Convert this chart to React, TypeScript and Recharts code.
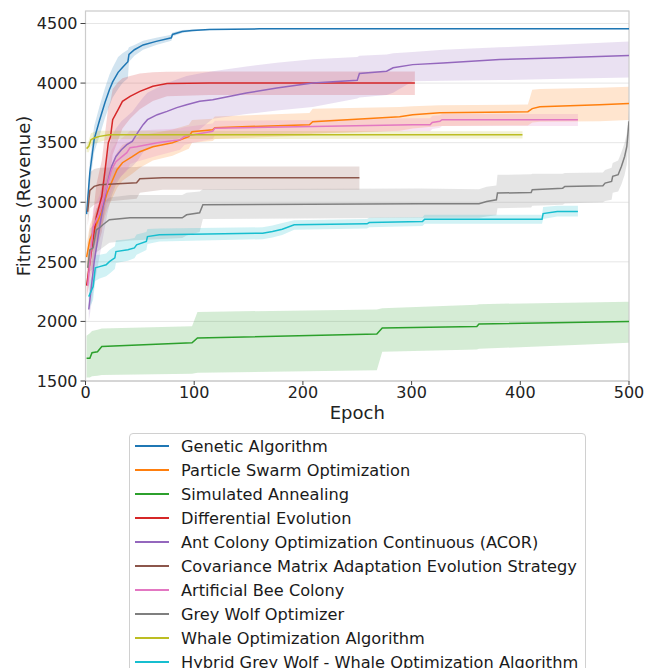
import {
  Area,
  CartesianGrid,
  ComposedChart,
  Line,
  ReferenceArea,
  XAxis,
  YAxis,
} from 'recharts'

// each row: [epoch, mean, lower, upper]
type Row = [number, number, number, number]

const names = [
  'Genetic Algorithm',
  'Particle Swarm Optimization',
  'Simulated Annealing',
  'Differential Evolution',
  'Ant Colony Optimization Continuous (ACOR)',
  'Covariance Matrix Adaptation Evolution Strategy',
  'Artificial Bee Colony',
  'Grey Wolf Optimizer',
  'Whale Optimization Algorithm',
  'Hybrid Grey Wolf - Whale Optimization Algorithm',
]

const colors = [
  '#1f77b4', '#ff7f0e', '#2ca02c', '#d62728', '#9467bd',
  '#8c564b', '#e377c2', '#7f7f7f', '#bcbd22', '#17becf',
]

const xTicks = [0, 100, 200, 300, 400, 500]
const yTicks = [1500, 2000, 2500, 3000, 3500, 4000, 4500]

const ga: Row[] = [
  [1, 2900, 2880, 2920], [4, 3250, 3150, 3350], [8, 3530, 3420, 3640],
  [13, 3690, 3560, 3810], [18, 3840, 3710, 3960], [22, 3945, 3810, 4070],
  [25, 4010, 3880, 4130], [30, 4090, 3950, 4220], [34, 4130, 4000, 4250],
  [39, 4180, 4040, 4280], [40, 4240, 4180, 4300], [45, 4280, 4230, 4320],
  [53, 4320, 4280, 4355], [65, 4350, 4320, 4380], [79, 4380, 4355, 4405],
  [80, 4408, 4390, 4425], [89, 4433, 4420, 4445], [98, 4441, 4432, 4450],
  [114, 4450, 4445, 4455], [160, 4455, 4452, 4458], [500, 4455, 4452, 4458],
]

const pso: Row[] = [
  [1, 2540, 2440, 2640], [4, 2685, 2560, 2810], [8, 2769, 2640, 2900],
  [13, 2878, 2740, 3010], [20, 3080, 2940, 3220], [25, 3189, 3040, 3340],
  [29, 3273, 3120, 3420], [34, 3332, 3180, 3480], [43, 3382, 3240, 3520],
  [50, 3424, 3290, 3560], [62, 3466, 3350, 3580], [80, 3500, 3390, 3610],
  [95, 3550, 3450, 3650], [98, 3592, 3500, 3690], [117, 3609, 3515, 3700],
  [119, 3626, 3530, 3720], [206, 3651, 3560, 3750], [209, 3676, 3575, 3785],
  [289, 3718, 3600, 3800], [301, 3735, 3620, 3805], [326, 3752, 3640, 3815],
  [407, 3760, 3645, 3820], [411, 3786, 3670, 3945], [418, 3802, 3676, 3950],
  [473, 3819, 3680, 3960], [500, 3828, 3690, 3970],
]

const sa: Row[] = [
  [1, 1690, 1530, 1880], [4, 1690, 1530, 1900], [6, 1738, 1540, 1920],
  [11, 1746, 1545, 1930], [15, 1790, 1550, 1940], [98, 1820, 1560, 1960],
  [103, 1861, 1570, 2080], [268, 1895, 1590, 2100], [273, 1945, 1745, 2110],
  [360, 1958, 1765, 2140], [362, 1979, 1770, 2145], [500, 2000, 1820, 2166],
]

const de: Row[] = [
  [1, 2300, 2200, 2400], [10, 2880, 2600, 3150], [15, 3050, 2750, 3350],
  [18, 3270, 2950, 3580], [21, 3500, 3200, 3800], [23, 3550, 3250, 3850],
  [25, 3693, 3400, 3950], [30, 3777, 3520, 4010], [34, 3847, 3620, 4040],
  [41, 3889, 3700, 4060], [50, 3931, 3780, 4080], [62, 3973, 3850, 4090],
  [75, 3996, 3890, 4095], [114, 4000, 3900, 4097], [303, 4000, 3900, 4097],
]

const acor: Row[] = [
  [3, 2100, 2000, 2200], [8, 2500, 2300, 2700], [14, 2850, 2600, 3100],
  [20, 3150, 2900, 3400], [24, 3300, 3050, 3550], [28, 3384, 3150, 3620],
  [33, 3441, 3220, 3680], [38, 3483, 3270, 3720], [43, 3511, 3300, 3760],
  [48, 3584, 3350, 3820], [53, 3651, 3420, 3880], [57, 3693, 3450, 3920],
  [66, 3735, 3480, 3960], [75, 3763, 3500, 4000], [84, 3794, 3530, 4030],
  [93, 3819, 3560, 4060], [105, 3847, 3610, 4080], [117, 3860, 3700, 4100],
  [148, 3917, 3740, 4140], [176, 3958, 3770, 4170], [209, 4000, 3800, 4200],
  [250, 4023, 3870, 4220], [252, 4080, 3880, 4230], [277, 4100, 3900, 4240],
  [283, 4128, 3920, 4250], [301, 4155, 4015, 4260], [329, 4169, 4020, 4280],
  [381, 4197, 4025, 4300], [430, 4211, 4035, 4320], [500, 4231, 4046, 4350],
]

const cmaes: Row[] = [
  [2, 2920, 2800, 3040], [4, 3100, 2950, 3250], [8, 3133, 2980, 3280],
  [13, 3147, 3000, 3290], [47, 3164, 3030, 3295], [50, 3197, 3080, 3300],
  [71, 3206, 3105, 3300], [252, 3206, 3105, 3300],
]

const abc: Row[] = [
  [2, 2300, 2200, 2400], [7, 2794, 2650, 2950], [13, 2912, 2760, 3060],
  [18, 3080, 2920, 3240], [24, 3273, 3100, 3440], [28, 3340, 3180, 3500],
  [38, 3416, 3260, 3570], [41, 3458, 3320, 3600], [47, 3466, 3340, 3600],
  [66, 3500, 3390, 3610], [87, 3525, 3440, 3620], [91, 3553, 3480, 3630],
  [99, 3567, 3500, 3640], [117, 3595, 3530, 3660], [119, 3622, 3560, 3685],
  [209, 3636, 3580, 3690], [301, 3651, 3595, 3705], [317, 3651, 3595, 3705],
  [319, 3670, 3615, 3725], [326, 3679, 3625, 3730], [328, 3693, 3640, 3740],
  [453, 3693, 3640, 3740],
]

const gwo: Row[] = [
  [2, 2450, 2300, 2600], [4, 2600, 2420, 2780], [7, 2617, 2440, 2800],
  [10, 2769, 2580, 2950], [13, 2786, 2600, 2970], [16, 2811, 2620, 3000],
  [22, 2853, 2660, 3040], [41, 2870, 2680, 3060], [89, 2870, 2700, 3060],
  [93, 2895, 2720, 3080], [105, 2912, 2750, 3090], [108, 2979, 2860, 3110],
  [307, 2987, 2870, 3115], [362, 2987, 2870, 3110], [369, 3007, 2880, 3130],
  [378, 3021, 2890, 3140], [379, 3077, 2950, 3230], [410, 3082, 2955, 3235],
  [411, 3105, 2970, 3240], [439, 3118, 2980, 3240], [441, 3133, 2990, 3245],
  [476, 3139, 3000, 3250], [478, 3161, 3010, 3270], [484, 3175, 3020, 3290],
  [485, 3217, 3080, 3330], [490, 3231, 3090, 3350], [493, 3300, 3150, 3420],
  [496, 3384, 3230, 3500], [498, 3469, 3320, 3580], [500, 3680, 3560, 3780],
]

const woa: Row[] = [
  [1, 3450, 3420, 3480], [3, 3469, 3420, 3520], [5, 3525, 3470, 3580],
  [8, 3539, 3490, 3590], [13, 3553, 3505, 3600], [22, 3567, 3530, 3600],
  [402, 3567, 3535, 3595],
]

const hybrid: Row[] = [
  [3, 2208, 2100, 2320], [7, 2292, 2180, 2400], [9, 2450, 2340, 2560],
  [13, 2460, 2360, 2560], [19, 2475, 2380, 2570], [22, 2502, 2400, 2600],
  [27, 2534, 2440, 2630], [28, 2586, 2490, 2680], [39, 2601, 2510, 2690],
  [45, 2617, 2530, 2700], [47, 2643, 2560, 2730], [56, 2671, 2600, 2750],
  [57, 2712, 2650, 2775], [68, 2727, 2670, 2780], [163, 2740, 2690, 2790],
  [172, 2755, 2705, 2805], [181, 2774, 2725, 2825], [192, 2811, 2770, 2850],
  [259, 2819, 2780, 2860], [261, 2830, 2790, 2870], [310, 2838, 2800, 2875],
  [312, 2858, 2820, 2895], [420, 2858, 2820, 2895], [421, 2905, 2860, 2960],
  [434, 2923, 2880, 2970], [453, 2923, 2880, 2970],
]

const allRows = [ga, pso, sa, de, acor, cmaes, abc, gwo, woa, hybrid]

const series = allRows.map((rows, i) => ({
  name: names[i],
  color: colors[i],
  data: rows.map(([e, m, lo, hi]) => ({ e, m, band: [lo, hi] })),
}))

const font = 'DejaVu Sans, sans-serif'

export default function App() {
  return (
    <div style={{ position: 'relative', width: 653, height: 660, fontFamily: font }}>
      <ComposedChart
        width={653}
        height={420}
        margin={{ top: 3, right: 32, bottom: 0, left: 0 }}
      >
        <CartesianGrid vertical={false} stroke='#e6e6e6' strokeWidth={1} />
        <XAxis
          dataKey='e'
          type='number'
          domain={[0, 500]}
          ticks={xTicks}
          allowDataOverflow
          height={47}
          tickSize={4}
          tickMargin={2}
          stroke='#cccccc'
          tick={{ fill: '#222', fontSize: 16, fontFamily: font }}
          tickLine={{ stroke: '#444' }}
          label={{
            value: 'Epoch',
            position: 'insideBottom',
            offset: 9,
            fill: '#222',
            fontSize: 18,
            fontFamily: font,
          }}
        />
        <YAxis
          type='number'
          domain={[1500, 4605]}
          ticks={yTicks}
          allowDataOverflow
          width={77.5}
          tickSize={5}
          tickMargin={3}
          stroke='#cccccc'
          tick={{ fill: '#222', fontSize: 16, fontFamily: font }}
          tickLine={{ stroke: '#444' }}
          label={{
            content: () => (
              <text
                transform='translate(22,188) rotate(-90)'
                textAnchor='middle'
                fill='#222'
                fontSize={18}
                fontFamily={font}
              >
                Fitness (Revenue)
              </text>
            ),
          }}
        />
        {series.map((s) => [
          <Area
            key={s.name + '-band'}
            data={s.data}
            dataKey='band'
            type='linear'
            stroke='none'
            fill={s.color}
            fillOpacity={0.2}
            isAnimationActive={false}
            activeDot={false}
          />,
          <Line
            key={s.name}
            data={s.data}
            dataKey='m'
            type='linear'
            stroke={s.color}
            strokeWidth={1.5}
            dot={false}
            activeDot={false}
            isAnimationActive={false}
          />,
        ])}
        <ReferenceArea
          x1={0}
          x2={500}
          y1={1500}
          y2={4605}
          fill='none'
          stroke='#cccccc'
          strokeWidth={1.2}
        />
      </ComposedChart>
      <div
        style={{
          position: 'absolute',
          left: 121,
          top: 425,
          width: 457,
          height: 250,
          border: '1px solid #d0d0d0',
          borderRadius: 4,
          background: 'rgba(255,255,255,0.8)',
          boxSizing: 'border-box',
          paddingTop: 0,
        }}
      >
        {series.map((s) => (
          <div
            key={s.name}
            style={{ display: 'flex', alignItems: 'center', height: 24 }}
          >
            <div
              style={{
                marginLeft: 5,
                width: 34,
                height: 2,
                background: s.color,
              }}
            />
            <span
              style={{
                marginLeft: 12,
                fontSize: 16.2,
                color: '#1a1a1a',
                whiteSpace: 'nowrap',
              }}
            >
              {s.name}
            </span>
          </div>
        ))}
      </div>
    </div>
  )
}
